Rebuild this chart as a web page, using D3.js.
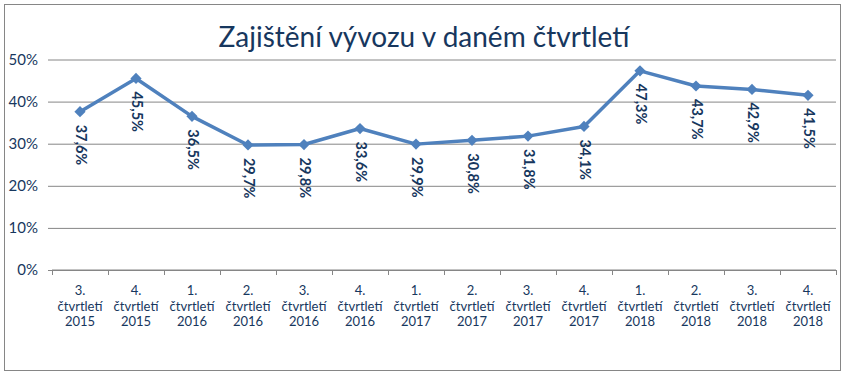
<!DOCTYPE html>
<html>
<head>
<meta charset="utf-8">
<script src="https://cdn.jsdelivr.net/npm/d3@7"></script>
<style>
  body { margin: 0; background: #fff; }
  text { font-family: Lato, "Open Sans", sans-serif; }
</style>
</head>
<body>
<div id="chart"></div>
<script>
var title = 'Zajištění vývozu v daném čtvrtletí';
var quarters = ['3.', '4.', '1.', '2.', '3.', '4.', '1.', '2.', '3.', '4.', '1.', '2.', '3.', '4.'];
var years = ['2015', '2015', '2016', '2016', '2016', '2016', '2017', '2017', '2017', '2017', '2018', '2018', '2018', '2018'];
var values = [37.6, 45.5, 36.5, 29.7, 29.8, 33.6, 29.9, 30.8, 31.8, 34.1, 47.3, 43.7, 42.9, 41.5];
var yTicks = [0, 10, 20, 30, 40, 50];

var W = 847, H = 378;
var margin = {top: 59.5, right: 11, bottom: 108, left: 52};
var width = W - margin.left - margin.right;
var height = H - margin.top - margin.bottom;
var textColor = '#17375E';

var svg = d3.select('#chart')
  .append('svg')
    .attr('width', W)
    .attr('height', H);

// outer frame
svg.append('rect')
  .attr('x', 4.5).attr('y', 4.5)
  .attr('width', 836).attr('height', 366)
  .attr('fill', '#fff')
  .attr('stroke', '#868686')
  .attr('stroke-width', 1);

svg.append('text')
  .attr('x', 424)
  .attr('y', 47)
  .attr('text-anchor', 'middle')
  .attr('fill', textColor)
  .style('font-size', '28px')
  .text(title);

var g = svg.append('g')
  .attr('transform', 'translate(' + margin.left + ',' + margin.top + ')');

var keys = d3.range(values.length);

var x_scale = d3.scaleBand()
  .domain(keys)
  .range([0, width]);

var y_scale = d3.scaleLinear()
  .domain([0, 50])
  .range([height, 0]);

// Y axis with gridlines
var y_axis = d3.axisLeft(y_scale)
  .tickValues(yTicks)
  .tickSize(-width - 4)
  .tickPadding(10)
  .tickFormat(function(d) { return d + '%'; });
var gy = g.append('g')
  .attr('transform', 'translate(-4,0)')
  .call(y_axis);
gy.select('.domain').remove();
gy.selectAll('line').attr('stroke', '#868686');
gy.selectAll('text')
  .attr('fill', textColor)
  .style('font-size', '15px');

// X axis
var gx = g.append('g')
  .attr('transform', 'translate(0,' + height + ')');
gx.append('line')
  .attr('x1', 0).attr('x2', width)
  .attr('stroke', '#868686');
gx.selectAll('.tick')
  .data(d3.range(values.length + 1))
  .enter()
  .append('line')
    .attr('x1', function(d) { return Math.round(d * x_scale.step()) + 0.5; })
    .attr('x2', function(d) { return Math.round(d * x_scale.step()) + 0.5; })
    .attr('y1', 0).attr('y2', 5)
    .attr('stroke', '#868686');

var xl = gx.selectAll('.xlabel')
  .data(keys)
  .enter()
  .append('text')
    .attr('text-anchor', 'middle')
    .attr('fill', textColor)
    .style('font-size', '13px')
    .attr('transform', function(d) {
      return 'translate(' + (x_scale(d) + x_scale.bandwidth() / 2) + ',0)';
    });
xl.append('tspan').attr('x', 0).attr('y', 25).text(function(d) { return quarters[d]; });
xl.append('tspan').attr('x', 0).attr('y', 40.5).text('čtvrtletí');
xl.append('tspan').attr('x', 0).attr('y', 56).text(function(d) { return years[d]; });

// Line
var line = d3.line()
  .x(function(d, i) { return x_scale(i) + x_scale.bandwidth() / 2; })
  .y(function(d) { return y_scale(d); });

g.append('path')
  .datum(values)
  .attr('fill', 'none')
  .attr('stroke', '#4F81BD')
  .attr('stroke-width', 3.5)
  .attr('stroke-linejoin', 'round')
  .attr('d', line);

// Diamond markers
g.selectAll('.marker')
  .data(values)
  .enter()
  .append('path')
    .attr('d', d3.symbol().type(d3.symbolDiamond2).size(80))
    .attr('fill', '#4F81BD')
    .attr('transform', function(d, i) {
      return 'translate(' + (x_scale(i) + x_scale.bandwidth() / 2) + ',' + y_scale(d) + ')';
    });

// Data labels, rotated
g.selectAll('.label')
  .data(values)
  .enter()
  .append('text')
    .attr('fill', textColor)
    .style('font-size', '14.5px')
    .style('font-weight', 'bold')
    .attr('dominant-baseline', 'middle')
    .attr('transform', function(d, i) {
      return 'translate(' + (x_scale(i) + x_scale.bandwidth() / 2) + ',' + (y_scale(d) + 13) + ') rotate(90)';
    })
    .text(function(d) { return d.toFixed(1).replace('.', ',') + '%'; });
</script>
</body>
</html>
